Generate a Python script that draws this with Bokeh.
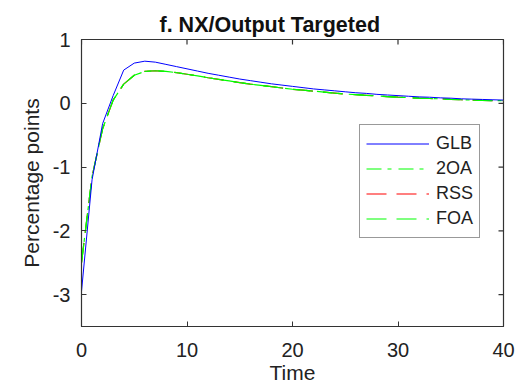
import math
from bokeh.plotting import figure
from bokeh.models import FixedTicker, Range1d, Legend, LegendItem
from bokeh.embed import file_html
from bokeh.resources import INLINE

t = list(range(0, 41))
glb = [-2.95, -1.20, -0.32, 0.12, 0.52, 0.63, 0.66, 0.645, 0.61, 0.575,
       0.54, 0.505, 0.47, 0.44, 0.41, 0.38, 0.355, 0.33, 0.305, 0.285,
       0.265, 0.245, 0.225, 0.21, 0.195, 0.18, 0.165, 0.155, 0.14, 0.13,
       0.12, 0.11, 0.10, 0.095, 0.085, 0.08, 0.07, 0.065, 0.06, 0.055, 0.05]
oa2 = [-2.50, -1.15, -0.40, 0.05, 0.30, 0.44, 0.50, 0.51, 0.50, 0.48,
       0.455, 0.43, 0.40, 0.375, 0.35, 0.325, 0.30, 0.28, 0.26, 0.24,
       0.22, 0.205, 0.19, 0.175, 0.16, 0.145, 0.135, 0.125, 0.115, 0.105,
       0.095, 0.09, 0.08, 0.075, 0.07, 0.06, 0.055, 0.05, 0.045, 0.042, 0.04]
rss = list(oa2)
foa = list(oa2)
x_ticks = [0, 10, 20, 30, 40]
y_ticks = [-3, -2, -1, 0, 1]
y_tick_labels = ["-3", "-2", "-1", "0", "1"]

FONT = "Liberation Sans"
DARK = "#333333"

p = figure(width=517, height=389, output_backend="svg", toolbar_location=None,
           x_range=Range1d(0, 40), y_range=Range1d(-3.5, 1),
           min_border_left=81, min_border_right=14, min_border_top=39,
           min_border_bottom=63)
p.title.text = "f. NX/Output Targeted"
p.title.align = "left"
p.title.text_font = FONT
p.title.text_font_size = "21.5px"
p.title.text_font_style = "bold"
p.title.text_color = "#111111"
p.title.offset = 78
p.title.standoff = 6

p.grid.visible = False
p.outline_line_color = DARK
p.outline_line_width = 1.2

for ax in p.xaxis + p.yaxis:
    ax.major_tick_in = 5
    ax.major_tick_out = 0
    ax.minor_tick_line_color = None
    ax.axis_line_color = DARK
    ax.major_tick_line_color = DARK
    ax.major_label_text_font = FONT
    ax.major_label_text_font_size = "20px"
    ax.major_label_text_color = "#222222"
    ax.axis_label_text_font = FONT
    ax.axis_label_text_font_size = "21px"
    ax.axis_label_text_font_style = "normal"
    ax.axis_label_text_color = "#222222"
p.xaxis.ticker = FixedTicker(ticks=x_ticks)
p.yaxis.ticker = FixedTicker(ticks=y_ticks)
p.yaxis.major_label_overrides = {v: s for v, s in zip(y_ticks, y_tick_labels)}
p.xaxis.axis_label = "Time"
p.yaxis.axis_label = "Percentage points"
p.xaxis.major_label_standoff = 16
p.yaxis.major_label_standoff = 11
p.xaxis.axis_label_standoff = 1
p.yaxis.axis_label_standoff = 7

# mirrored inward ticks on the top and right edges (clipped to the frame)
p.scatter(x_ticks, [y_ticks[-1]] * len(x_ticks), marker="dash", size=10,
          angle=math.pi / 2, line_color=DARK, line_width=1.2)
p.scatter([x_ticks[-1]] * len(y_ticks), y_ticks, marker="dash", size=10,
          line_color=DARK, line_width=1.2)

r_rss = p.line(t, rss, line_color="#FF0000", line_width=1.2, line_dash="20 10")
r_foa = p.line(t, foa, line_color="#00FF00", line_width=1.2, line_dash="20 10")
r_2oa = p.line(t, oa2, line_color="#00FF00", line_width=1.2, line_dash="15 6 4 7")
r_glb = p.line(t, glb, line_color="#0000FF", line_width=1.0)

legend = Legend(items=[
    LegendItem(label="GLB", renderers=[r_glb]),
    LegendItem(label="2OA", renderers=[r_2oa]),
    LegendItem(label="RSS", renderers=[r_rss]),
    LegendItem(label="FOA", renderers=[r_foa]),
], location=(278, 88))
legend.label_text_font = FONT
legend.label_text_font_size = "18px"
legend.label_text_color = "#222222"
legend.glyph_width = 63
legend.glyph_height = 25
legend.label_height = 25
legend.spacing = 0
legend.padding = 6
legend.label_standoff = 7
legend.margin = 0
legend.border_line_color = DARK
legend.border_line_width = 1.2
legend.background_fill_color = "white"
legend.background_fill_alpha = 1
p.add_layout(legend, "center")

open("out.html", "w").write(file_html(p, INLINE))
